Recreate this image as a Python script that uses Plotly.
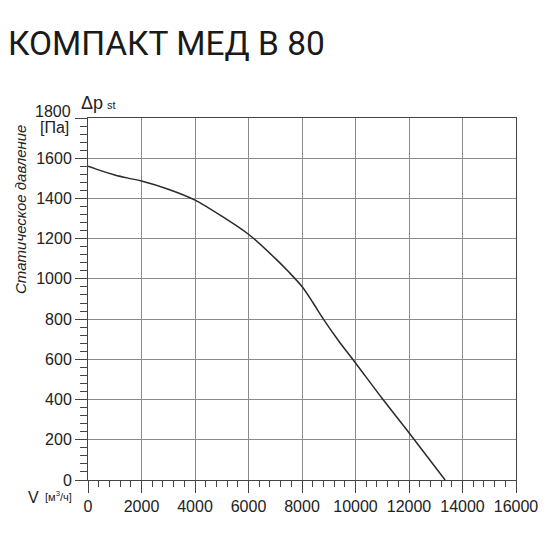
import plotly.graph_objects as go

# ---------- DATA ----------
flow = [0, 500, 1000, 1500, 2000, 3000, 4000, 5000, 6000, 7000,
        7500, 8000, 8400, 8800, 9400, 10000, 11000, 12000, 13350]
pressure = [1560, 1537, 1517, 1501, 1487, 1446, 1392, 1312, 1222, 1102,
            1035, 962, 884, 800, 686, 582, 405, 235, 0]

x_ticks = [0, 2000, 4000, 6000, 8000, 10000, 12000, 14000, 16000]
x_labels = ["0", "2000", "4000", "6000", "8000", "10000", "12000", "14000", "16000"]
y_ticks = [0, 200, 400, 600, 800, 1000, 1200, 1400, 1600, 1800]
y_labels = ["0", "200", "400", "600", "800", "1000", "1200", "1400", "1600", ""]
y_top_label = "1800"   # drawn a bit above its tick, as in the source

title_text = "КОМПАКТ МЕД В 80"
y_title = "Статическое давление"

GRID = "#8a8a8a"
AXIS = "#444444"
TXT = "#222222"
FONT = "Liberation Sans, Arial, sans-serif"

# ---------- FIGURE ----------
fig = go.Figure()
fig.add_trace(go.Scatter(
    x=flow, y=pressure, mode="lines", line_shape="spline",
    line=dict(color="#2a2a2a", width=1.5, smoothing=0.8), showlegend=False,
    hoverinfo="skip"
))

# page body adds 8px, so figure is 542 wide/high
fig.update_layout(
    width=542, height=542,
    margin=dict(l=80, r=32, t=110, b=70),
    paper_bgcolor="white", plot_bgcolor="white",
    font=dict(family=FONT, color=TXT, size=16),
    title=dict(text=title_text, x=0, xanchor="left", y=0.913, yanchor="bottom",
               font=dict(family="Roboto, sans-serif", size=33.5, color="#1a1a1a")),
    xaxis=dict(range=[0, 16000], tickvals=x_ticks, ticktext=x_labels,
               showgrid=True, gridcolor=GRID, gridwidth=1, showline=True,
               linecolor=AXIS, linewidth=1, mirror=True, ticks="outside",
               ticklen=12, tickcolor=AXIS, zeroline=False, fixedrange=True,
               tickfont=dict(size=16),
               minor=dict(dtick=400, ticks="outside", ticklen=6,
                          tickcolor=AXIS, showgrid=False)),
    yaxis=dict(range=[0, 1800], tickvals=y_ticks, ticktext=y_labels,
               showgrid=True, gridcolor=GRID, gridwidth=1, showline=True,
               linecolor=AXIS, linewidth=1, mirror=True, ticks="outside",
               ticklen=12, tickcolor=AXIS, zeroline=False, fixedrange=True,
               tickfont=dict(size=16),
               minor=dict(dtick=40, ticks="outside", ticklen=7,
                          tickcolor=AXIS, showgrid=False)),
)

fig.add_annotation(text=y_top_label, xref="paper", yref="paper", x=-0.035,
                   y=1.017, xanchor="right", yanchor="middle", showarrow=False,
                   font=dict(size=16))
fig.add_annotation(text="Δp", xref="paper", yref="paper", x=-0.022, y=1.042,
                   xanchor="left", yanchor="middle", showarrow=False,
                   font=dict(size=18))
fig.add_annotation(text="st", xref="paper", yref="paper", x=0.04, y=1.037,
                   xanchor="left", yanchor="middle", showarrow=False,
                   font=dict(size=11))
fig.add_annotation(text="[Па]", xref="paper", yref="paper", x=-0.04, y=0.974,
                   xanchor="right", yanchor="middle", showarrow=False,
                   font=dict(size=16))
fig.add_annotation(text="<i>" + y_title + "</i>", xref="paper", yref="paper",
                   x=-0.158, y=0.747, xanchor="center", yanchor="middle",
                   textangle=-90, showarrow=False, font=dict(size=15))
fig.add_annotation(text="V", xref="paper", yref="paper", x=-0.146, y=-0.047,
                   xanchor="left", yanchor="middle", showarrow=False,
                   font=dict(size=16))
fig.add_annotation(text="[м<sup>3</sup>/ч]", xref="paper", yref="paper",
                   x=-0.106, y=-0.044, xanchor="left", yanchor="middle",
                   showarrow=False, font=dict(size=11))

fig.write_html("out.html")
